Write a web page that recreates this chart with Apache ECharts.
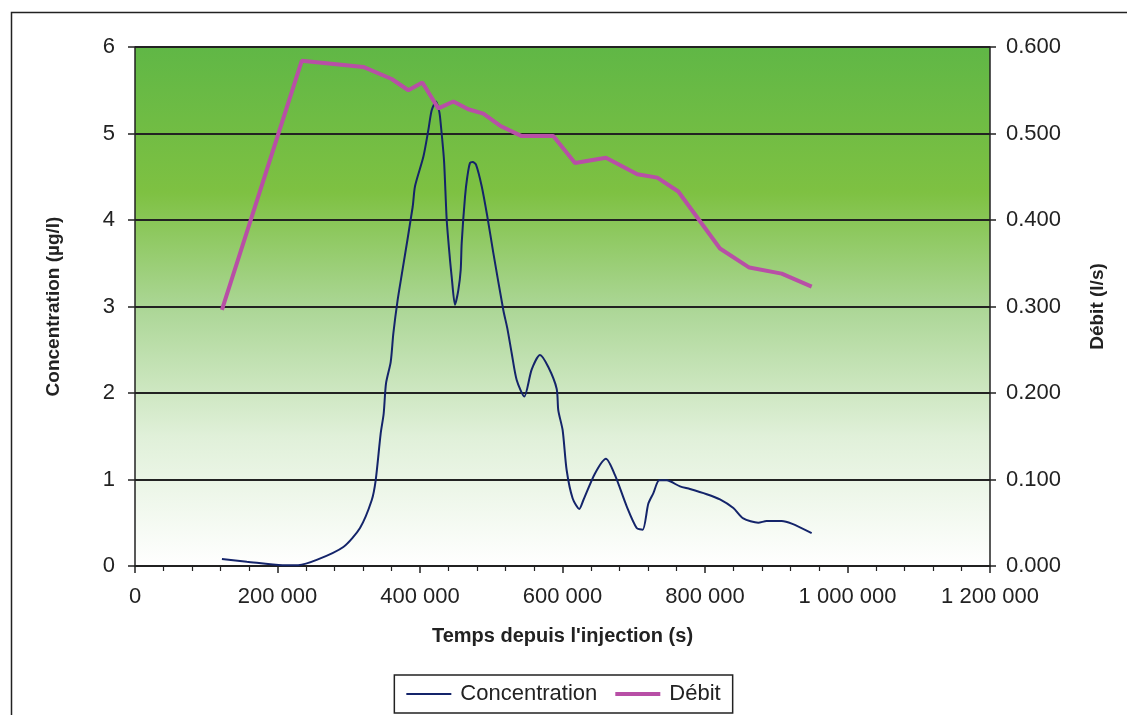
<!DOCTYPE html>
<html>
<head>
<meta charset="utf-8">
<script src="https://cdn.jsdelivr.net/npm/echarts@6/dist/echarts.min.js"></script>
<style>
html,body{margin:0;padding:0;background:#fff;}
#chart{width:1127px;height:715px;}
</style>
</head>
<body>
<div id="chart"></div>
<script>
// Concentration (µg/l) vs time (s)
const concTime = [122000, 157000, 207000, 229000, 255000, 292400, 315800, 332200, 337800, 344800, 349000, 352300, 358900, 362600, 368700, 375000, 389700, 393000, 404700, 411700, 416400, 422500, 427100, 429000, 433700, 437500, 442100, 444500, 449100, 453800, 457100, 458500, 463200, 466400, 470200, 474000, 478600, 486600, 494500, 502900, 516900, 522500, 528700, 535700, 546400, 556700, 568400, 580100, 591800, 594100, 600200, 605800, 614300, 623600, 629200, 645600, 661000, 673700, 690100, 704100, 712500, 720400, 727400, 735800, 746200, 764900, 778900, 802400, 821000, 839800, 853700, 874800, 886500, 907600, 921700, 949700];
const concValue = [0.08, 0.05, 0.008, 0.01, 0.07, 0.22, 0.44, 0.76, 0.99, 1.53, 1.76, 2.11, 2.36, 2.69, 3.08, 3.4, 4.15, 4.39, 4.73, 5.04, 5.27, 5.37, 5.25, 5.12, 4.69, 4.0, 3.54, 3.34, 3.02, 3.19, 3.42, 3.73, 4.27, 4.5, 4.66, 4.67, 4.64, 4.39, 4.04, 3.62, 2.96, 2.75, 2.46, 2.15, 1.96, 2.27, 2.44, 2.30, 2.05, 1.80, 1.57, 1.11, 0.78, 0.66, 0.76, 1.07, 1.24, 1.05, 0.69, 0.44, 0.42, 0.72, 0.84, 0.99, 0.99, 0.92, 0.89, 0.83, 0.77, 0.67, 0.55, 0.50, 0.52, 0.52, 0.49, 0.38];
// Débit (l/s) vs time (s)
const debitTime = [122000, 234000, 320400, 360300, 383600, 403300, 425700, 446800, 467800, 488900, 512300, 542700, 587100, 617500, 661000, 705000, 733000, 762500, 821000, 862200, 907600, 949700];
const debitValue = [0.296, 0.584, 0.577, 0.563, 0.550, 0.559, 0.529, 0.537, 0.528, 0.523, 0.509, 0.497, 0.497, 0.466, 0.472, 0.453, 0.449, 0.433, 0.367, 0.345, 0.338, 0.323];

const xTicksMax = 1200000;
const seriesNames = ['Concentration', 'Débit'];

const font = 'Liberation Sans, Arial, sans-serif';
const chart = echarts.init(document.getElementById('chart'));
chart.setOption({
  animation: false,
  backgroundColor: '#ffffff',
  textStyle: {fontFamily: font},
  graphic: [{
    type: 'rect', left: 9, top: 10, z: -10, silent: true,
    shape: {width: 1400, height: 900},
    style: {fill: 'none', stroke: '#222', lineWidth: 1.5}
  }],
  grid: {
    left: 135, right: 137, top: 47, bottom: 149,
    show: true, borderWidth: 0,
    backgroundColor: new echarts.graphic.LinearGradient(0, 0, 0, 1, [
      {offset: 0, color: '#60b746'},
      {offset: 0.28, color: '#7ec142'},
      {offset: 0.5, color: '#abd695'},
      {offset: 0.75, color: '#e0f0d9'},
      {offset: 1, color: '#ffffff'}
    ])
  },
  legend: {
    data: [
      {name: seriesNames[0], icon: 'path://M0 0 M0 12 M45 0 M0 5 L45 5 L45 7 L0 7 Z'},
      {name: seriesNames[1], icon: 'path://M0 0 M0 12 M45 0 M0 4 L45 4 L45 8 L0 8 Z'}
    ],
    left: 'center', top: 675,
    itemWidth: 45, itemHeight: 12, itemGap: 18,
    borderColor: '#222', borderWidth: 1.5,
    padding: [8, 12, 8, 12],
    textStyle: {fontSize: 22, color: '#222', fontFamily: font, padding: [0, 0, 0, 4]}
  },
  xAxis: {
    type: 'value', min: 0, max: xTicksMax, interval: 200000,
    name: "Temps depuis l'injection (s)",
    nameLocation: 'middle', nameGap: 60,
    nameTextStyle: {fontSize: 20, fontWeight: 'bold', color: '#222', fontFamily: font},
    axisLine: {onZero: false, lineStyle: {color: '#222', width: 1.5}},
    axisTick: {show: true, length: 7, lineStyle: {color: '#222', width: 1.5}},
    minorTick: {show: true, splitNumber: 5, length: 5, lineStyle: {color: '#222', width: 1.2}},
    splitLine: {show: false},
    axisLabel: {
      fontSize: 22, color: '#222', margin: 20,
      formatter: v => String(v).replace(/\B(?=(\d{3})+(?!\d))/g, ' ')
    }
  },
  yAxis: [{
    type: 'value', min: 0, max: 6, interval: 1, position: 'left',
    name: 'Concentration (µg/l)', nameLocation: 'middle', nameGap: 72, nameRotate: 90,
    nameTextStyle: {fontSize: 19, fontWeight: 'bold', color: '#222', fontFamily: font},
    axisLine: {show: true, lineStyle: {color: '#222', width: 1.5}},
    axisTick: {show: true, length: 7, lineStyle: {color: '#222', width: 1.5}},
    splitLine: {show: true, lineStyle: {color: '#222', width: 1.8}},
    axisLabel: {fontSize: 22, color: '#222', margin: 20}
  }, {
    type: 'value', min: 0, max: 0.6, interval: 0.1, position: 'right',
    name: 'Débit (l/s)', nameLocation: 'middle', nameGap: 98, nameRotate: 90,
    nameTextStyle: {fontSize: 19, fontWeight: 'bold', color: '#222', fontFamily: font},
    axisLine: {show: true, lineStyle: {color: '#222', width: 1.5}},
    axisTick: {show: true, length: 6, lineStyle: {color: '#222', width: 1.5}},
    splitLine: {show: false},
    axisLabel: {fontSize: 22, color: '#222', margin: 16, formatter: v => v.toFixed(3)}
  }],
  series: [{
    name: seriesNames[0], type: 'line', yAxisIndex: 0,
    data: concTime.map((t, i) => [t, concValue[i]]),
    symbol: 'none', smooth: 0.25, z: 3,
    lineStyle: {color: '#14246a', width: 2},
    itemStyle: {color: '#14246a'}
  }, {
    name: seriesNames[1], type: 'line', yAxisIndex: 1,
    data: debitTime.map((t, i) => [t, debitValue[i]]),
    symbol: 'none', smooth: false, z: 4,
    lineStyle: {color: '#b84fa6', width: 4},
    itemStyle: {color: '#b84fa6'}
  }]
});
</script>
</body>
</html>
